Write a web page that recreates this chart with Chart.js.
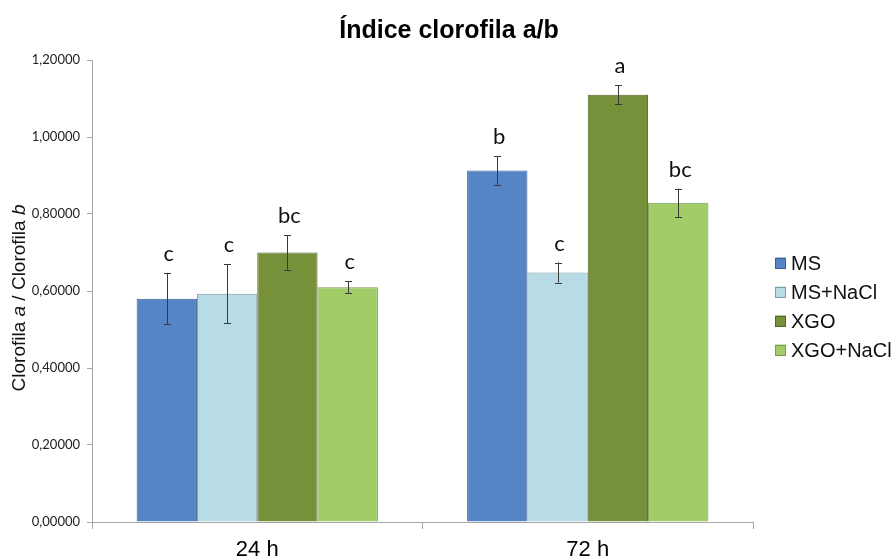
<!DOCTYPE html>
<html>
<head>
<meta charset="utf-8">
<title>Índice clorofila a/b</title>
<script src="https://cdn.jsdelivr.net/npm/chart.js@4.4.1/dist/chart.umd.min.js"></script>
<style>
  html, body { margin: 0; padding: 0; background: #ffffff; }
  #wrap { width: 893px; height: 558px; position: relative; }
</style>
</head>
<body>
<div id="wrap"><canvas id="chart" width="893" height="558"></canvas></div>
<script>
// Sampling times
const categories = ['24 h', '72 h'];

// Treatments
const seriesNames = ['MS', 'MS+NaCl', 'XGO', 'XGO+NaCl'];

// Chlorophyll a/b ratio (mean) per treatment
const msValues      = [0.580, 0.913];
const msNaclValues  = [0.593, 0.648];
const xgoValues     = [0.700, 1.110];
const xgoNaclValues = [0.610, 0.829];

// Standard error per treatment
const msErrors      = [0.067, 0.037];
const msNaclErrors  = [0.077, 0.026];
const xgoErrors     = [0.045, 0.024];
const xgoNaclErrors = [0.016, 0.037];

// Significance letters
const msLetters      = ['c', 'b'];
const msNaclLetters  = ['c', 'c'];
const xgoLetters     = ['bc', 'a'];
const xgoNaclLetters = ['c', 'bc'];

// Y axis ticks
const yTicks = [0, 0.2, 0.4, 0.6, 0.8, 1.0, 1.2];

const fills   = ['#5585C5', '#B7DCE6', '#77913B', '#A1CD69'];
const borders = ['#3D5F8E', '#7E9CA6', '#56692B', '#7C9B55'];

const values  = [msValues, msNaclValues, xgoValues, xgoNaclValues];
const errors  = [msErrors, msNaclErrors, xgoErrors, xgoNaclErrors];
const letters = [msLetters, msNaclLetters, xgoLetters, xgoNaclLetters];

const datasets = seriesNames.map((name, i) => ({
  label: name,
  data: values[i],
  errors: errors[i],
  letters: letters[i],
  backgroundColor: fills[i],
  borderColor: borders[i],
  borderWidth: 1,
  barPercentage: 1.0,
  categoryPercentage: 0.73
}));

const fmt = v => v.toFixed(5).replace('.', ',');

// Error bars and significance letters above each bar
const errorBarPlugin = {
  id: 'errorBars',
  afterDatasetsDraw(chart) {
    const ctx = chart.ctx;
    const y = chart.scales.y;
    chart.data.datasets.forEach((ds, di) => {
      const meta = chart.getDatasetMeta(di);
      meta.data.forEach((bar, i) => {
        const v = ds.data[i];
        const e = ds.errors[i];
        const yTop = y.getPixelForValue(v + e);
        const yBot = y.getPixelForValue(v - e);
        const x = Math.round(bar.x) + 0.5;
        ctx.save();
        ctx.strokeStyle = '#3a3a3a';
        ctx.lineWidth = 1;
        ctx.beginPath();
        ctx.moveTo(x, yTop); ctx.lineTo(x, yBot);
        ctx.moveTo(x - 3.5, Math.round(yTop) + 0.5); ctx.lineTo(x + 3.5, Math.round(yTop) + 0.5);
        ctx.moveTo(x - 3.5, Math.round(yBot) + 0.5); ctx.lineTo(x + 3.5, Math.round(yBot) + 0.5);
        ctx.stroke();
        ctx.fillStyle = '#111111';
        ctx.font = '22px Lato, "Open Sans", sans-serif';
        ctx.textAlign = 'center';
        ctx.textBaseline = 'alphabetic';
        ctx.fillText(ds.letters[i], bar.x + 2, yTop - 12);
        ctx.restore();
      });
    });
  }
};

// Title, rotated y-axis title with italic letters, and legend
const decorPlugin = {
  id: 'decor',
  afterDraw(chart) {
    const ctx = chart.ctx;
    const area = chart.chartArea;
    ctx.save();

    // Title
    ctx.fillStyle = '#000000';
    ctx.font = 'bold 25px "Liberation Sans", Arial, sans-serif';
    ctx.textAlign = 'center';
    ctx.textBaseline = 'alphabetic';
    ctx.fillText('Índice clorofila a/b', 449, 38);

    // Y axis title: Clorofila a / Clorofila b
    const parts = [
      ['Clorofila ', false], ['a', true], [' / Clorofila ', false], ['b', true]
    ];
    const normal = '19px "Liberation Sans", Arial, sans-serif';
    const italic = 'italic 19px "Liberation Sans", Arial, sans-serif';
    let total = 0;
    parts.forEach(p => { ctx.font = p[1] ? italic : normal; total += ctx.measureText(p[0]).width; });
    ctx.translate(25, (area.top + area.bottom) / 2 + 7);
    ctx.rotate(-Math.PI / 2);
    let cx = -total / 2;
    ctx.textAlign = 'left';
    ctx.fillStyle = '#111111';
    parts.forEach(p => {
      ctx.font = p[1] ? italic : normal;
      ctx.fillText(p[0], cx, 0);
      cx += ctx.measureText(p[0]).width;
    });
    ctx.setTransform(1, 0, 0, 1, 0, 0);

    // Legend
    const lx = 775, ly = 263, step = 29, box = 11;
    ctx.font = '20px "Liberation Sans", Arial, sans-serif';
    ctx.textBaseline = 'middle';
    ctx.textAlign = 'left';
    chart.data.datasets.forEach((ds, i) => {
      const cy = ly + i * step;
      ctx.fillStyle = ds.backgroundColor;
      ctx.fillRect(lx, cy - box / 2, box, box);
      ctx.strokeStyle = ds.borderColor;
      ctx.lineWidth = 1;
      ctx.strokeRect(lx + 0.5, Math.round(cy - box / 2) + 0.5, box - 1, box - 1);
      ctx.fillStyle = '#111111';
      ctx.fillText(ds.label, lx + 16, cy + 1);
    });
    ctx.restore();
  }
};

new Chart(document.getElementById('chart'), {
  type: 'bar',
  data: { labels: categories, datasets },
  options: {
    responsive: false,
    animation: false,
    layout: { padding: { top: 60, right: 140, left: 0, bottom: 0 } },
    plugins: {
      legend: { display: false },
      title: { display: false },
      tooltip: { enabled: false }
    },
    scales: {
      x: {
        grid: { offset: true, drawOnChartArea: false, drawTicks: true, tickLength: 7, color: '#a6a6a6' },
        border: { color: '#a6a6a6', width: 1 },
        ticks: {
          color: '#000000',
          padding: 8,
          font: { family: '"Liberation Sans", Arial, sans-serif', size: 22 }
        },
        afterFit(scale) { scale.height = 36; }
      },
      y: {
        min: 0,
        max: 1.2,
        afterBuildTicks(scale) { scale.ticks = yTicks.map(v => ({ value: v })); },
        grid: { drawOnChartArea: false, drawTicks: true, tickLength: 5, color: '#a6a6a6' },
        border: { color: '#a6a6a6', width: 1 },
        ticks: {
          color: '#222222',
          padding: 7,
          font: { family: 'Lato, "Open Sans", sans-serif', size: 13 },
          callback: v => fmt(v)
        },
        afterFit(scale) { scale.width = 92; }
      }
    }
  },
  plugins: [errorBarPlugin, decorPlugin]
});
</script>
</body>
</html>
